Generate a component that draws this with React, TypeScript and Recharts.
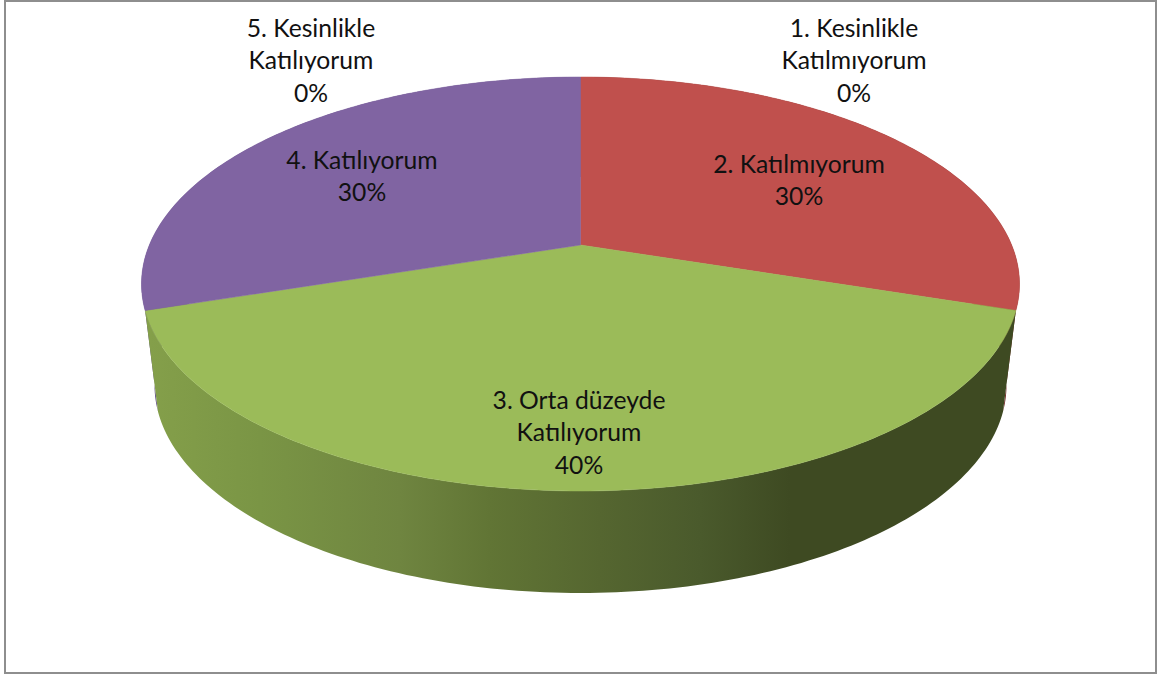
import { Pie, PieChart } from "recharts"

const categories = [
  "1. Kesinlikle Katılmıyorum",
  "2. Katılmıyorum",
  "3. Orta düzeyde Katılıyorum",
  "4. Katılıyorum",
  "5. Kesinlikle Katılıyorum",
]
const values = [0, 30, 40, 30, 0]
const topColors = ["#4F81BD", "#C0504D", "#9BBB59", "#8064A2", "#4BACC6"]
const FRONT_WALL = "url(#greenWall)"
const wallColors = ["#2c4a70", "#6e2320", FRONT_WALL, "#5d4a82", "#2a6a7c"]

// how each label wraps, and where its block sits
const labelLines = [
  ["1. Kesinlikle", "Katılmıyorum"],
  ["2. Katılmıyorum"],
  ["3. Orta düzeyde", "Katılıyorum"],
  ["4. Katılıyorum"],
  ["5. Kesinlikle", "Katılıyorum"],
]
const labelSpots = [
  { x: 854, y: 37 },
  { x: 799, y: 173 },
  { x: 579, y: 409 },
  { x: 362, y: 169 },
  { x: 311, y: 37 },
]
const LINE_HEIGHT = 32.3

const topData = categories.map((name, i) => ({ name, value: values[i], fill: topColors[i] }))
const wallData = categories.map((name, i) => ({ name, value: values[i], fill: wallColors[i] }))

const WIDTH = 1157
const HEIGHT = 675

// the top face is an ellipse seen in perspective, so the pie centre sits above the ellipse centre
const SQUASH = 207 / 439
const CENTER_SHIFT = -39 / 207
const WALL_DROP = 101
const WALL_SHRINK = 426 / 439
const WALL_SQUASH = 208 / 426

const rimPoint = (angle: number) => {
  const t = ((90 - angle) * Math.PI) / 180
  const x = Math.sin(t)
  const y = -Math.cos(t)
  const d = 1 + CENTER_SHIFT * y
  return {
    u: (x * Math.sqrt(1 - CENTER_SHIFT * CENTER_SHIFT)) / d,
    v: (y + CENTER_SHIFT) / d,
  }
}

const arcAngles = (from: number, to: number) => {
  const steps = Math.max(2, Math.ceil(Math.abs(to - from)))
  return Array.from({ length: steps + 1 }, (_, i) => from + ((to - from) * i) / steps)
}

const TopSlice = (props: any) => {
  const { cx, cy, outerRadius, startAngle, endAngle, fill } = props
  if (startAngle === endAngle) return <g />
  const ry = outerRadius * SQUASH
  const apexY = cy + CENTER_SHIFT * ry
  const pts = arcAngles(startAngle, endAngle).map(a => {
    const p = rimPoint(a)
    return `${cx + p.u * outerRadius},${cy + p.v * ry}`
  })
  return <path d={`M${cx},${apexY} L${pts.join(" L")} Z`} fill={fill} stroke={fill} strokeWidth={0.5} />
}

const wallPath = (props: any) => {
  const { cx, cy, outerRadius, startAngle, endAngle, fill } = props
  const ry = outerRadius * SQUASH
  const lowRx = outerRadius * WALL_SHRINK
  const lowRy = lowRx * WALL_SQUASH
  const angles = arcAngles(startAngle, endAngle)
  const upper = angles.map(a => {
    const p = rimPoint(a)
    return `${cx + p.u * outerRadius},${cy + p.v * ry}`
  })
  const lower = angles
    .slice()
    .reverse()
    .map(a => {
      const p = rimPoint(a)
      return `${cx + p.u * lowRx},${cy + WALL_DROP + p.v * lowRy}`
    })
  return <path d={`M${upper.join(" L")} L${lower.join(" L")} Z`} fill={fill} stroke="none" />
}

// the back walls go first so the front wall can cover them, leaving only slivers at the sides
const BackWall = (props: any) =>
  props.startAngle === props.endAngle || props.fill === FRONT_WALL ? <g /> : wallPath(props)

const FrontWall = (props: any) =>
  props.startAngle === props.endAngle || props.fill !== FRONT_WALL ? <g /> : wallPath(props)

const renderLabel = (props: any) => {
  const { index, percent } = props
  const spot = labelSpots[index]
  const lines = [...labelLines[index], `${Math.round(percent * 100)}%`]
  return (
    <text
      key={index}
      x={spot.x}
      y={spot.y}
      textAnchor="middle"
      fontFamily="Lato"
      fontSize={24.7}
      fill="#111"
    >
      {lines.map((line, i) => (
        <tspan key={i} x={spot.x} y={spot.y + i * LINE_HEIGHT}>
          {line}
        </tspan>
      ))}
    </text>
  )
}

const pieProps = {
  dataKey: "value",
  nameKey: "name",
  cx: 580.5,
  cy: 284,
  innerRadius: 0,
  outerRadius: 439,
  startAngle: 90,
  endAngle: -270,
  stroke: "none",
  labelLine: false,
  isAnimationActive: false,
}

export default function App() {
  return (
    <div style={{ position: "absolute", left: 0, top: 0, width: WIDTH, height: HEIGHT, background: "#fff" }}>
      <div
        style={{
          position: "absolute",
          left: 4,
          top: 0,
          width: 1153,
          height: 674,
          boxSizing: "border-box",
          border: "2px solid #8e8e8e",
        }}
      />
      <PieChart width={WIDTH} height={HEIGHT} margin={{ top: 0, right: 0, bottom: 0, left: 0 }} style={{ position: "absolute", left: 0, top: 0 }}>
        <defs>
          <linearGradient id="greenWall" gradientUnits="userSpaceOnUse" x1="150" y1="0" x2="1010" y2="0">
            <stop offset="0" stopColor="#849f4a" />
            <stop offset="0.128" stopColor="#7a9545" />
            <stop offset="0.29" stopColor="#6f8540" />
            <stop offset="0.395" stopColor="#617535" />
            <stop offset="0.523" stopColor="#556630" />
            <stop offset="0.64" stopColor="#4a5a2c" />
            <stop offset="0.744" stopColor="#3e4a22" />
            <stop offset="1" stopColor="#3e4a22" />
          </linearGradient>
        </defs>
        <Pie {...pieProps} data={wallData} shape={BackWall} label={false} />
        <Pie {...pieProps} data={wallData} shape={FrontWall} label={false} />
        <Pie {...pieProps} data={topData} shape={TopSlice} label={renderLabel} />
      </PieChart>
    </div>
  )
}
